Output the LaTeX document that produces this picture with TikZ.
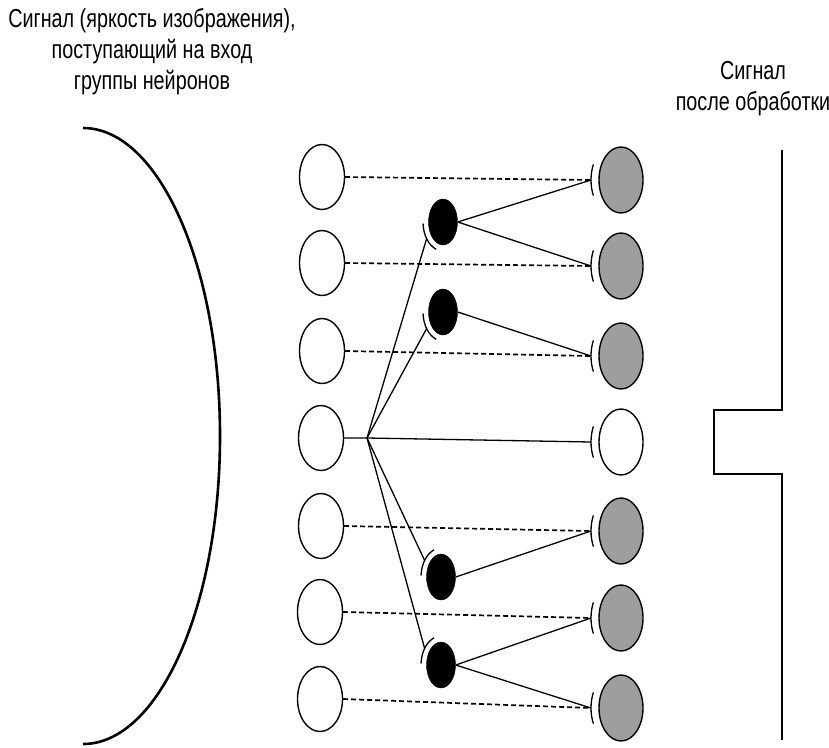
\documentclass[tikz,border=0pt]{standalone}
\usepackage{fontspec}
\setmainfont[FakeStretch=0.76]{Liberation Sans}
\usetikzlibrary{shapes.geometric,calc}
\begin{document}
\begin{tikzpicture}[x=1pt,y=-1pt,
  inneuron/.style={ellipse,draw,line width=1.4pt,minimum width=45pt,minimum height=65pt,inner sep=0pt,fill=white},
  outneuron/.style={ellipse,draw,line width=1.4pt,minimum width=44pt,minimum height=66pt,inner sep=0pt,fill=black!38},
  outwhite/.style={ellipse,draw,line width=1.4pt,minimum width=44pt,minimum height=66pt,inner sep=0pt,fill=white},
  blackneuron/.style={ellipse,draw,fill=black,minimum width=29pt,minimum height=46pt,inner sep=0pt},
  conn/.style={line width=1.3pt},
  dconn/.style={line width=1.7pt,dash pattern=on 5pt off 3pt},
  syn/.style={line width=1.3pt},
  heavy/.style={line width=2.6pt},
  lbl/.style={align=center,font=\fontsize{26}{31}\selectfont}
]
\useasboundingbox (0,0) rectangle (829,747);

% texts
\node[lbl] (t1) at (152,52) {Сигнал (яркость изображения),\\поступающий на вход\\группы нейронов};
\node[lbl] (t2) at (753,89) {Сигнал\\после обработки};

% left signal curve
\draw[heavy] (83,128) arc[start angle=-90,end angle=90,x radius=137,y radius=308];

% right output signal
\draw[heavy] (782,150) -- (782,410) -- (714,410) -- (714,474) -- (782,474) -- (782,740);

% input neurons
\node[inneuron] (l1) at (322,177) {};
\node[inneuron] (l2) at (322,263) {};
\node[inneuron] (l3) at (322,351) {};
\node[inneuron] (l4) at (321,438) {};
\node[inneuron] (l5) at (321,526) {};
\node[inneuron] (l6) at (320,612) {};
\node[inneuron] (l7) at (320,699) {};

% output neurons
\node[outneuron] (r1) at (621,180) {};
\node[outneuron] (r2) at (621,266) {};
\node[outneuron] (r3) at (621,356) {};
\node[outwhite]  (r4) at (621,442) {};
\node[outneuron] (r5) at (621,531) {};
\node[outneuron] (r6) at (621,618) {};
\node[outneuron] (r7) at (621,708) {};

% inhibitory neurons
\node[blackneuron] (b1) at (443,222) {};
\node[blackneuron] (b2) at (443,312) {};
\node[blackneuron] (b3) at (441,577) {};
\node[blackneuron] (b4) at (441,665) {};

% synapses on output neurons
\foreach \i in {1,...,7}{
  \coordinate (s\i) at ($(r\i.center)+(-30,0)$);
  \draw[syn] ($(r\i.center)+(157:30 and 40)$) arc[start angle=157,end angle=203,x radius=30,y radius=40];
}
% synapses on inhibitory neurons
\foreach \i in {1,2}{
  \coordinate (sb\i) at ($(b\i.center)+(145:20 and 29)$);
  \draw[syn] ($(b\i.center)+(110:20 and 29)$) arc[start angle=110,end angle=177,x radius=20,y radius=29];
}
\foreach \i in {3,4}{
  \coordinate (sb\i) at ($(b\i.center)+(215:20 and 29)$);
  \draw[syn] ($(b\i.center)+(183:20 and 29)$) arc[start angle=183,end angle=250,x radius=20,y radius=29];
}

% direct (dashed) connections
\foreach \i in {1,2,3,5,6,7}{
  \draw[dconn] (l\i.east) -- (s\i);
}

% central neuron hub
\coordinate (hub) at (367,438);
\draw[conn] (l4.east) -- (hub) -- (s4);
\foreach \i in {1,...,4}{
  \draw[conn] (hub) -- (sb\i);
}

% inhibitory outputs
\draw[conn] (b1.east) -- (s1);
\draw[conn] (b1.east) -- (s2);
\draw[conn] (b2.east) -- (s3);
\draw[conn] (b3.east) -- (s5);
\draw[conn] (b4.east) -- (s6);
\draw[conn] (b4.east) -- (s7);
\end{tikzpicture}
\end{document}
